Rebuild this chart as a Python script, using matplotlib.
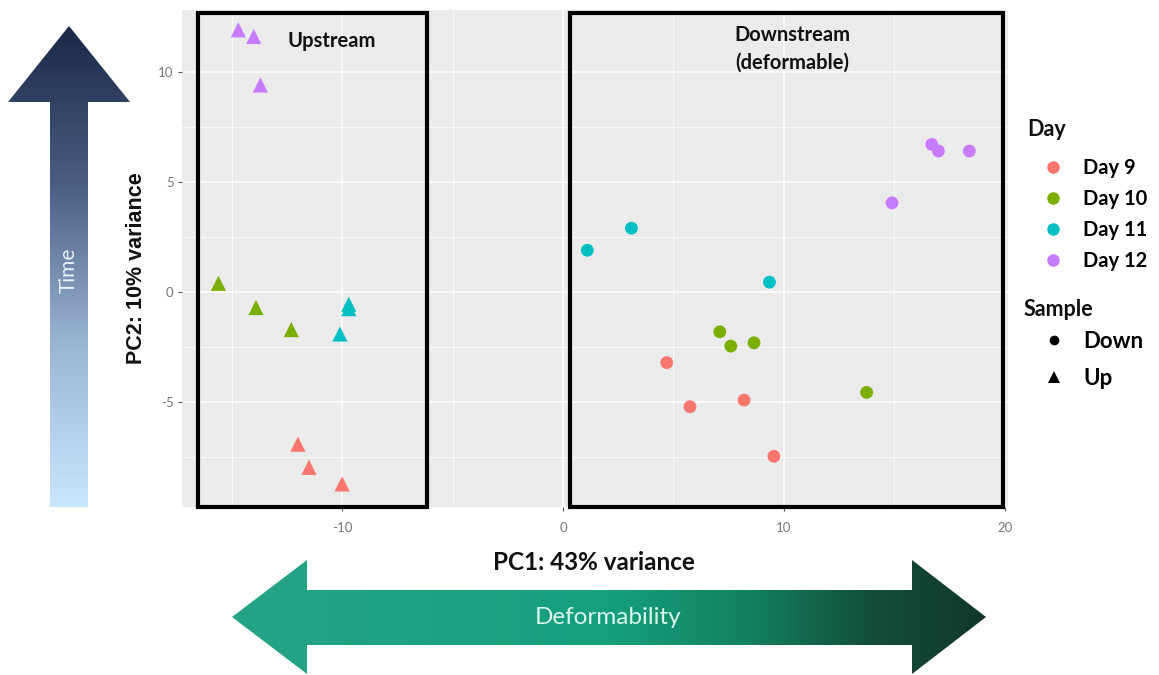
import numpy as np
import matplotlib
matplotlib.use("Agg")
import matplotlib.pyplot as plt
from matplotlib.patches import Polygon, Rectangle
from matplotlib.colors import LinearSegmentedColormap
from matplotlib.lines import Line2D

plt.rcParams["axes.unicode_minus"] = False

# ---------------- data ----------------
days = ["Day 9", "Day 10", "Day 11", "Day 12"]
day_colors = ["#F8766D", "#7CAE00", "#00BFC4", "#C77CFF"]
samples = ["Down", "Up"]

# Upstream samples (triangles)
up_day = ["Day 12", "Day 12", "Day 12", "Day 10", "Day 10", "Day 10",
          "Day 11", "Day 11", "Day 11", "Day 9", "Day 9", "Day 9"]
up_pc1 = [-14.7, -14.0, -13.7, -15.6, -13.9, -12.3, -9.7, -9.7, -10.1, -12.0, -11.5, -10.0]
up_pc2 = [11.9, 11.6, 9.4, 0.4, -0.7, -1.7, -0.55, -0.75, -1.9, -6.9, -7.95, -8.7]

# Downstream samples (circles)
down_day = ["Day 12", "Day 12", "Day 12", "Day 12", "Day 11", "Day 11", "Day 11",
            "Day 10", "Day 10", "Day 10", "Day 10", "Day 9", "Day 9", "Day 9", "Day 9"]
down_pc1 = [16.7, 17.0, 18.4, 14.9, 3.1, 1.1, 9.35, 7.1, 7.6, 8.65, 13.75, 4.7, 5.75, 8.2, 9.55]
down_pc2 = [6.7, 6.4, 6.4, 4.05, 2.9, 1.9, 0.45, -1.8, -2.45, -2.3, -4.55, -3.2, -5.2, -4.9, -7.45]

x_ticks = [-10, 0, 10, 20]
y_ticks = [-5, 0, 5, 10]
x_label = "PC1: 43% variance"
y_label = "PC2: 10% variance"

# ---------------- figure ----------------
W, H = 1159, 675
fig = plt.figure(figsize=(W / 100, H / 100), dpi=100)
fig.patch.set_facecolor("white")

def fx(px):
    return px / W

def fy(py):
    return 1 - py / H

L, R, T, B = 182, 1008, 10, 507
ax = fig.add_axes([fx(L), fy(B), fx(R) - fx(L), fy(T) - fy(B)])
ax.set_facecolor("#EBEBEB")
ax.set_xlim(-17.25, 20.15)
ax.set_ylim(-9.75, 12.8)
ax.set_xticks(x_ticks)
ax.set_yticks(y_ticks)
ax.set_xticks([-15, -5, 5, 15], minor=True)
ax.set_yticks([-7.5, -2.5, 2.5, 7.5], minor=True)
ax.grid(True, which="major", color="white", linewidth=1.1)
ax.grid(True, which="minor", color="white", linewidth=0.55)
ax.set_axisbelow(True)
for s in ax.spines.values():
    s.set_visible(False)
ax.tick_params(which="major", length=3, color="#555555", labelcolor="#777777",
               labelsize=9.5)
ax.tick_params(axis="x", which="major", pad=8)
ax.tick_params(axis="y", which="major", pad=3)
ax.tick_params(which="minor", length=0)
for lab in ax.get_xticklabels() + ax.get_yticklabels():
    lab.set_fontfamily("Lato")

cmap_day = dict(zip(days, day_colors))
ax.scatter(down_pc1, down_pc2, c=[cmap_day[d] for d in down_day], marker="o",
           s=85, linewidths=0, zorder=3)
ax.scatter(up_pc1, up_pc2, c=[cmap_day[d] for d in up_day], marker="^",
           s=120, linewidths=0, zorder=3)

fig.text(fx(594), fy(562), x_label, ha="center", va="center", fontsize=17.5,
         fontweight="bold", fontfamily="Lato", color="#111111")
fig.text(fx(136), fy(268), y_label, ha="center", va="center", rotation=90,
         fontsize=15.5, fontweight="bold", fontfamily="Liberation Sans", color="#111111")

# ---------------- legends ----------------
fig.text(fx(1027), fy(130), "Day", ha="left", va="center", fontsize=15.5,
         fontweight="bold", fontfamily="Lato", color="#111111")
fig.text(fx(1024), fy(309), "Sample", ha="left", va="center", fontsize=15.5,
         fontweight="bold", fontfamily="Lato", color="#111111")

day_handles = [Line2D([], [], marker="o", linestyle="none", markersize=9,
                      markerfacecolor=c, markeredgewidth=0) for c in day_colors]
leg1 = fig.legend(day_handles, days, loc="upper left",
                  bbox_to_anchor=(fx(1028), fy(158)), frameon=False,
                  prop={"family": "Lato", "weight": "bold", "size": 14.5},
                  labelspacing=0.55, handletextpad=0.25, handlelength=2.5,
                  borderaxespad=0, borderpad=0)

samp_handles = [Line2D([], [], marker="o", linestyle="none", markersize=7,
                       markerfacecolor="black", markeredgewidth=0),
                Line2D([], [], marker="^", linestyle="none", markersize=8.5,
                       markerfacecolor="black", markeredgewidth=0)]
leg2 = fig.legend(samp_handles, samples, loc="upper left",
                  bbox_to_anchor=(fx(1028), fy(331)), frameon=False,
                  prop={"family": "Lato", "weight": "bold", "size": 16},
                  labelspacing=0.72, handletextpad=0.2, handlelength=2.3,
                  borderaxespad=0, borderpad=0)

# ---------------- overlay: boxes, labels, arrows ----------------
ov = fig.add_axes([0, 0, 1, 1], zorder=5)
ov.set_xlim(0, W)
ov.set_ylim(H, 0)
ov.axis("off")
ov.patch.set_visible(False)

ov.add_patch(Rectangle((198, 13), 229, 494, fill=False, edgecolor="black", linewidth=3))
ov.add_patch(Rectangle((570, 13), 433, 494, fill=False, edgecolor="black", linewidth=3))
ov.text(332, 41, "Upstream", ha="center", va="center", fontsize=14.5,
        fontweight="bold", fontfamily="Lato", color="#111111")
ov.text(792, 35, "Downstream", ha="center", va="center", fontsize=14.5,
        fontweight="bold", fontfamily="Lato", color="#111111")
ov.text(792, 63, "(deformable)", ha="center", va="center", fontsize=14.5,
        fontweight="bold", fontfamily="Lato", color="#111111")

# Time arrow (vertical, gradient)
time_poly = Polygon([(50, 507), (50, 102), (8, 102), (69, 26), (130, 102),
                     (88, 102), (88, 507)], closed=True, facecolor="none",
                    edgecolor="none")
ov.add_patch(time_poly)
cm_time = LinearSegmentedColormap.from_list(
    "time", ["#1b2846", "#4a5f84", "#9cb6d6", "#c9e6fd"])
grad_v = np.linspace(0, 1, 256).reshape(-1, 1)
im1 = ov.imshow(grad_v, cmap=cm_time, extent=(8, 130, 507, 26), aspect="auto",
                origin="upper", interpolation="bicubic")
im1.set_clip_path(time_poly)
ov.text(69, 270, "Time", rotation=90, ha="center", va="center", fontsize=15,
        fontfamily="Lato", color="#e8f2fb")

# Deformability arrow (horizontal double, gradient)
def_poly = Polygon([(232, 617), (307, 560), (307, 590), (912, 590), (912, 560),
                    (986, 617), (912, 674), (912, 645), (307, 645), (307, 674)],
                   closed=True, facecolor="none", edgecolor="none")
ov.add_patch(def_poly)
cm_def = LinearSegmentedColormap.from_list(
    "def", [(0, "#26a486"), (0.5, "#15a07c"), (0.68, "#128260"),
            (0.85, "#134d3a"), (1.0, "#11382a")])
grad_h = np.linspace(0, 1, 256).reshape(1, -1)
im2 = ov.imshow(grad_h, cmap=cm_def, extent=(232, 986, 674, 560), aspect="auto",
                interpolation="bicubic")
im2.set_clip_path(def_poly)
ov.text(608, 617, "Deformability", ha="center", va="center", fontsize=17.5,
        fontfamily="Lato", color="#d9f5ec")

ov.set_xlim(0, W)
ov.set_ylim(H, 0)

fig.savefig("out.png", dpi=100)
